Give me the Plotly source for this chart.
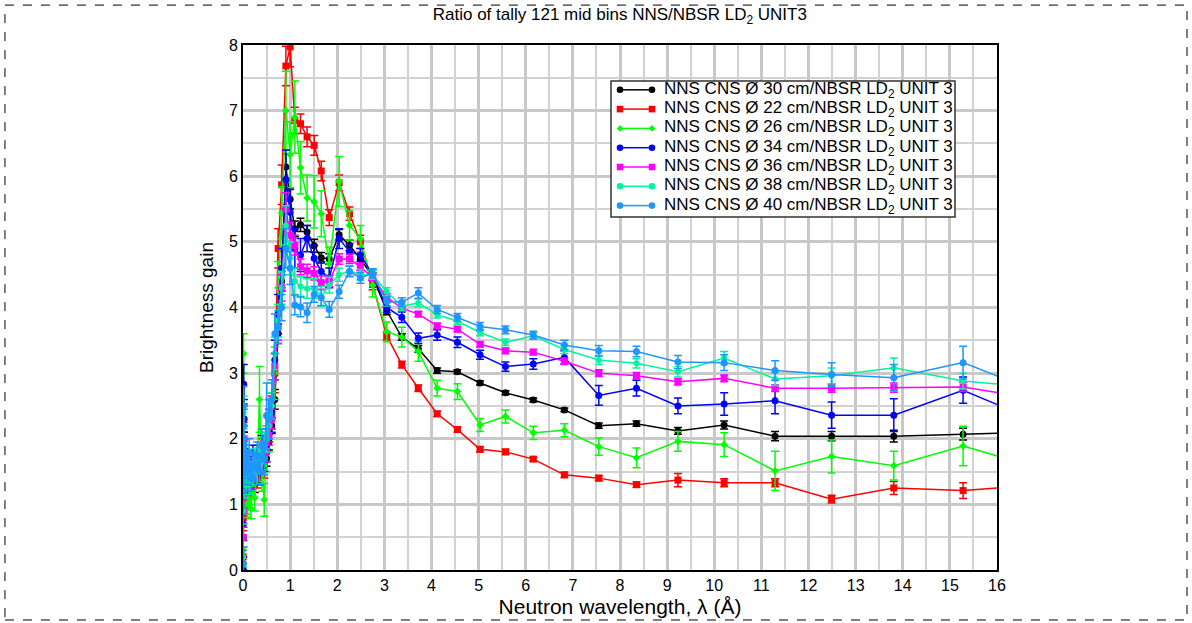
import plotly.graph_objects as go

# shared wavelength bins (Å)
wavelength = [0.003, 0.006, 0.01, 0.015, 0.02, 0.03, 0.04, 0.05,
              0.07, 0.1, 0.13, 0.17, 0.21, 0.25, 0.3, 0.35, 0.4, 0.45, 0.5, 0.55, 0.61, 0.675, 0.745,
              0.82, 0.91, 1.0,
              1.1, 1.22, 1.36, 1.51, 1.66, 1.83,
              2.04, 2.26, 2.49, 2.75, 3.05, 3.37, 3.72,
              4.12, 4.55, 5.03, 5.57, 6.16, 6.82, 7.55, 8.35,
              9.23, 10.21, 11.29, 12.49, 13.81, 15.28, 16.9]

gain_30 = [0.1, 0.5, 1.2, 1.9, 2.3, 1.7, 1.4, 1.6,
           1.5, 1.35, 1.45, 1.25, 1.4, 1.3, 1.55, 1.45, 1.6, 1.75, 1.7, 1.95, 2.2, 2.6, 3.6,
           4.4, 6.14, 5.65,
           5.2, 5.26, 5.15, 4.94, 4.76, 4.74,
           5.11, 4.95, 4.74, 4.47, 3.95, 3.55, 3.37,
           3.04, 3.02, 2.85, 2.70, 2.59, 2.44, 2.20, 2.23,
           2.12, 2.21, 2.04, 2.04, 2.04, 2.07, 2.1]
err_30 = [0.1, 0.15, 0.2, 0.2, 0.2, 0.15, 0.15, 0.15,
          0.15, 0.12, 0.12, 0.12, 0.12, 0.12, 0.12, 0.12, 0.12, 0.12, 0.12, 0.12, 0.12, 0.15, 0.15,
          0.15, 0.2, 0.15,
          0.12, 0.1, 0.1, 0.1, 0.08, 0.08,
          0.08, 0.08, 0.08, 0.06, 0.06, 0.05, 0.05,
          0.04, 0.03, 0.03, 0.03, 0.03, 0.03, 0.04, 0.04,
          0.05, 0.06, 0.07, 0.07, 0.09, 0.09, 0.1]

gain_22 = [0.2, 0.8, 1.4, 2.0, 1.6, 1.2, 1.5, 1.3,
           1.2, 1.3, 1.15, 1.35, 1.25, 1.5, 1.4, 1.7, 1.8, 1.6, 2.0, 2.2, 2.4, 3.0, 4.9,
           5.87, 7.68, 7.97,
           6.85, 6.8, 6.6, 6.47, 6.08, 5.37,
           5.9, 5.43, 5.0, 4.35, 3.57, 3.13, 2.77,
           2.38, 2.14, 1.84, 1.80, 1.69, 1.45, 1.40, 1.30,
           1.37, 1.33, 1.33, 1.08, 1.25, 1.21, 1.3]
err_22 = [0.15, 0.2, 0.2, 0.25, 0.2, 0.2, 0.2, 0.2,
          0.2, 0.15, 0.15, 0.15, 0.15, 0.15, 0.15, 0.2, 0.2, 0.2, 0.2, 0.25, 0.25, 0.3, 0.3,
          0.3, 0.3, 0.3,
          0.2, 0.15, 0.15, 0.15, 0.15, 0.12,
          0.12, 0.1, 0.1, 0.08, 0.06, 0.05, 0.05,
          0.04, 0.04, 0.04, 0.04, 0.03, 0.04, 0.04, 0.04,
          0.1, 0.06, 0.06, 0.06, 0.1, 0.12, 0.1]

gain_26 = [0.3, 1.0, 3.3, 1.6, 2.2, 1.1, 1.4, 1.2,
           1.1, 0.95, 1.2, 0.93, 1.3, 1.1, 1.6, 2.6, 1.5, 1.07, 1.8, 2.1, 2.5, 3.0, 4.3,
           5.44, 7.0, 6.33,
           6.9, 6.13, 5.67, 5.61, 5.43, 4.67,
           5.92, 5.25, 5.05, 4.34, 3.63, 3.55, 3.33,
           2.77, 2.72, 2.21, 2.34, 2.09, 2.13, 1.88, 1.71,
           1.96, 1.91, 1.51, 1.73, 1.59, 1.89, 1.55]
err_26 = [0.2, 0.3, 0.3, 0.3, 0.3, 0.25, 0.3, 0.25,
          0.25, 0.15, 0.2, 0.15, 0.2, 0.2, 0.3, 0.5, 0.3, 0.25, 0.3, 0.3, 0.35, 0.4, 0.4,
          0.4, 0.6, 0.5,
          0.55, 0.4, 0.35, 0.4, 0.35, 0.25,
          0.38, 0.22, 0.2, 0.18, 0.15, 0.15, 0.15,
          0.12, 0.12, 0.1, 0.1, 0.1, 0.1, 0.13, 0.15,
          0.15, 0.18, 0.3, 0.25, 0.22, 0.3, 0.25]

gain_34 = [0.0, 0.7, 1.5, 2.83, 2.3, 1.8, 1.5, 1.4,
           1.6, 1.3, 1.5, 1.4, 1.7, 1.5, 1.65, 1.5, 1.8, 1.7, 1.9, 2.3, 2.4, 3.2, 3.9,
           4.6, 5.95, 5.45,
           4.9, 4.8, 5.05, 4.75, 4.55, 4.45,
           5.05, 4.85, 4.8, 4.5, 4.0, 3.85, 3.53,
           3.58, 3.47, 3.28, 3.10, 3.14, 3.24, 2.66, 2.77,
           2.5, 2.53, 2.58, 2.36, 2.36, 2.74, 2.25]
err_34 = [0.2, 0.25, 0.3, 0.3, 0.3, 0.2, 0.2, 0.2,
          0.2, 0.15, 0.2, 0.15, 0.2, 0.2, 0.2, 0.2, 0.25, 0.2, 0.25, 0.3, 0.3, 0.3, 0.3,
          0.3, 0.45, 0.35,
          0.3, 0.25, 0.2, 0.2, 0.15, 0.15,
          0.15, 0.12, 0.1, 0.08, 0.08, 0.08, 0.08,
          0.08, 0.08, 0.07, 0.07, 0.08, 0.1, 0.15, 0.12,
          0.12, 0.17, 0.2, 0.2, 0.25, 0.2, 0.2]

gain_36 = [0.5, 1.1, 0.9, 1.7, 2.0, 1.5, 1.6, 1.3,
           1.5, 1.4, 1.6, 1.35, 1.55, 1.5, 1.7, 1.6, 1.75, 1.85, 1.8, 2.05, 2.3, 3.1, 3.7,
           4.3, 5.5, 5.1,
           4.95, 4.62, 4.56, 4.52, 4.38, 4.4,
           4.74, 4.74, 4.62, 4.46, 4.16, 3.99, 3.90,
           3.72, 3.67, 3.44, 3.34, 3.32, 3.18, 3.0, 2.96,
           2.87, 2.92, 2.77, 2.77, 2.78, 2.79, 2.6]
err_36 = [0.15, 0.2, 0.2, 0.2, 0.2, 0.15, 0.15, 0.15,
          0.15, 0.12, 0.12, 0.12, 0.12, 0.12, 0.12, 0.12, 0.12, 0.12, 0.15, 0.15, 0.15, 0.2, 0.2,
          0.2, 0.25, 0.2,
          0.15, 0.12, 0.1, 0.1, 0.1, 0.08,
          0.08, 0.07, 0.06, 0.05, 0.05, 0.04, 0.04,
          0.04, 0.04, 0.04, 0.04, 0.04, 0.05, 0.05, 0.05,
          0.05, 0.05, 0.05, 0.06, 0.07, 0.07, 0.07]

gain_38 = [0.2, 0.9, 1.8, 2.4, 1.6, 1.3, 1.7, 1.5,
           1.4, 1.6, 1.3, 1.5, 1.45, 1.7, 1.5, 1.8, 1.65, 1.9, 2.0, 2.2, 2.5, 3.3, 3.8,
           4.3, 5.25, 4.75,
           4.4, 4.32, 4.29, 4.29, 4.17, 4.34,
           4.5, 4.56, 4.5, 4.5, 4.24, 4.02, 4.07,
           3.89, 3.79, 3.62, 3.47, 3.57, 3.36, 3.2, 3.15,
           3.02, 3.23, 2.91, 2.96, 3.08, 2.88, 2.78]
err_38 = [0.15, 0.2, 0.25, 0.25, 0.2, 0.2, 0.2, 0.2,
          0.2, 0.15, 0.15, 0.15, 0.15, 0.15, 0.15, 0.15, 0.15, 0.2, 0.2, 0.2, 0.2, 0.25, 0.25,
          0.25, 0.3, 0.25,
          0.2, 0.15, 0.15, 0.15, 0.15, 0.12,
          0.1, 0.08, 0.08, 0.07, 0.06, 0.06, 0.06,
          0.05, 0.05, 0.05, 0.05, 0.05, 0.06, 0.07, 0.07,
          0.08, 0.1, 0.1, 0.12, 0.15, 0.12, 0.1]

gain_40 = [0.1, 1.2, 2.5, 1.9, 2.2, 1.6, 1.8, 1.5,
           1.7, 1.5, 1.8, 1.4, 1.6, 1.55, 1.75, 1.5, 1.9, 1.7, 2.35, 2.3, 2.6, 3.6, 3.7,
           4.0, 4.9, 4.6,
           4.04, 4.01, 3.92, 4.2, 4.15, 3.97,
           4.24, 4.55, 4.45, 4.52, 4.09, 4.08, 4.22,
           3.97, 3.85, 3.71, 3.66, 3.58, 3.43, 3.34, 3.33,
           3.17, 3.16, 3.04, 2.98, 2.93, 3.16, 2.7]
err_40 = [0.2, 0.25, 0.3, 0.3, 0.25, 0.2, 0.2, 0.2,
          0.2, 0.2, 0.2, 0.2, 0.2, 0.2, 0.2, 0.2, 0.25, 0.25, 0.5, 0.3, 0.3, 0.3, 0.25,
          0.2, 0.3, 0.25,
          0.15, 0.15, 0.15, 0.12, 0.12, 0.12,
          0.1, 0.08, 0.08, 0.07, 0.07, 0.07, 0.08,
          0.06, 0.06, 0.06, 0.06, 0.06, 0.07, 0.08, 0.08,
          0.1, 0.12, 0.15, 0.18, 0.2, 0.25, 0.15]

series_names = [
    "NNS CNS Ø 30 cm/NBSR LD<sub>2</sub> UNIT 3",
    "NNS CNS Ø 22 cm/NBSR LD<sub>2</sub> UNIT 3",
    "NNS CNS Ø 26 cm/NBSR LD<sub>2</sub> UNIT 3",
    "NNS CNS Ø 34 cm/NBSR LD<sub>2</sub> UNIT 3",
    "NNS CNS Ø 36 cm/NBSR LD<sub>2</sub> UNIT 3",
    "NNS CNS Ø 38 cm/NBSR LD<sub>2</sub> UNIT 3",
    "NNS CNS Ø 40 cm/NBSR LD<sub>2</sub> UNIT 3",
]
series_values = [gain_30, gain_22, gain_26, gain_34, gain_36, gain_38, gain_40]
series_errors = [err_30, err_22, err_26, err_34, err_36, err_38, err_40]
colors = ["#000000", "#ff0000", "#00ff00", "#0000ff", "#ff00ff", "#00f59a", "#1e96ff"]
symbols = ["circle", "square", "diamond", "circle", "square", "circle", "circle"]
sizes = [7, 7, 6, 7, 7, 6, 7]

fig = go.Figure()
for name, vals, errs, c, s, sz in zip(series_names, series_values, series_errors, colors, symbols, sizes):
    fig.add_trace(go.Scatter(
        x=wavelength, y=vals, name=name, mode="lines+markers", showlegend=False,
        line=dict(color=c, width=1.5),
        marker=dict(color=c, symbol=s, size=sz),
        error_y=dict(type="data", array=errs, visible=True, color=c, thickness=1.5, width=4),
    ))

font_main = "Liberation Sans, Arial, sans-serif"

# ---- custom legend (compact rows like the reference) ----
PL, PR, PT, PB = 243, 997, 45, 570
W, H = PR - PL, PB - PT


def px_x(p):
    return (p - PL) / W


def px_y(p):
    return (PB - p) / H


shapes = [dict(type="rect", xref="paper", yref="paper",
               x0=-0.3157, x1=1.252, y0=-0.0952, y1=1.076,
               line=dict(color="black", width=1, dash="dash"), layer="below")]
annotations = []
leg_left, leg_right, leg_top, leg_bottom = 611, 955, 81, 217
row_h = 19.3
shapes.append(dict(type="rect", xref="paper", yref="paper",
                   x0=px_x(leg_left), x1=px_x(leg_right), y0=px_y(leg_bottom), y1=px_y(leg_top),
                   line=dict(color="#333333", width=1.5), fillcolor="white", layer="above"))


def marker_shape(cx, cy, sym, c, r=3.3):
    if sym == "circle":
        return dict(type="circle", xref="paper", yref="paper",
                    x0=px_x(cx - r), x1=px_x(cx + r), y0=px_y(cy + r), y1=px_y(cy - r),
                    line=dict(color=c, width=0), fillcolor=c, layer="above")
    if sym == "square":
        return dict(type="rect", xref="paper", yref="paper",
                    x0=px_x(cx - r), x1=px_x(cx + r), y0=px_y(cy + r), y1=px_y(cy - r),
                    line=dict(color=c, width=0), fillcolor=c, layer="above")
    path = "M {} {} L {} {} L {} {} L {} {} Z".format(
        px_x(cx - r), px_y(cy), px_x(cx), px_y(cy - r),
        px_x(cx + r), px_y(cy), px_x(cx), px_y(cy + r))
    return dict(type="path", xref="paper", yref="paper", path=path,
                line=dict(color=c, width=0), fillcolor=c, layer="above")


for i, (name, c, s) in enumerate(zip(series_names, colors, symbols)):
    cy = 89.8 + i * row_h
    shapes.append(dict(type="line", xref="paper", yref="paper",
                       x0=px_x(620), x1=px_x(652), y0=px_y(cy), y1=px_y(cy),
                       line=dict(color=c, width=1.5), layer="above"))
    shapes.append(marker_shape(620, cy, s, c))
    shapes.append(marker_shape(652, cy, s, c))
    annotations.append(dict(text=name, xref="paper", yref="paper",
                            x=px_x(662), y=px_y(cy), xanchor="left", yanchor="middle",
                            showarrow=False,
                            font=dict(family=font_main, size=17, color="black")))

fig.update_layout(
    width=1192, height=623,
    margin=dict(l=PL, r=1192 - PR, t=PT, b=623 - PB, autoexpand=False),
    paper_bgcolor="white", plot_bgcolor="white",
    title=dict(text="Ratio of tally 121 mid bins NNS/NBSR LD<sub>2</sub> UNIT3",
               x=0.52, xanchor="center", y=0.977, yanchor="middle",
               font=dict(family=font_main, size=17, color="black")),
    showlegend=False,
    xaxis=dict(range=[0, 16], tickmode="linear", tick0=0, dtick=1, automargin=False,
               showgrid=True, gridcolor="#c8c8c8", gridwidth=2.5,
               minor=dict(dtick=0.5, showgrid=True, gridcolor="#d2d2d2", gridwidth=1.5),
               showline=True, linecolor="black", linewidth=2, mirror=True,
               ticks="", zeroline=False,
               tickfont=dict(family=font_main, size=16, color="black"),
               title=dict(text="Neutron wavelength, λ (Å)", standoff=6,
                          font=dict(family=font_main, size=21, color="black"))),
    yaxis=dict(range=[0, 8], tickmode="linear", tick0=0, dtick=1, automargin=False,
               showgrid=True, gridcolor="#c8c8c8", gridwidth=2.5,
               minor=dict(dtick=0.5, showgrid=True, gridcolor="#d2d2d2", gridwidth=1.5),
               showline=True, linecolor="black", linewidth=2, mirror=True,
               ticks="", zeroline=False,
               tickfont=dict(family=font_main, size=16, color="black"),
               title=dict(text="Brightness gain", standoff=10,
                          font=dict(family=font_main, size=19, color="black"))),
    shapes=shapes,
    annotations=annotations,
)

fig.write_html("out.html", config={"displayModeBar": False},
               post_script="document.body.style.margin='0px';")
